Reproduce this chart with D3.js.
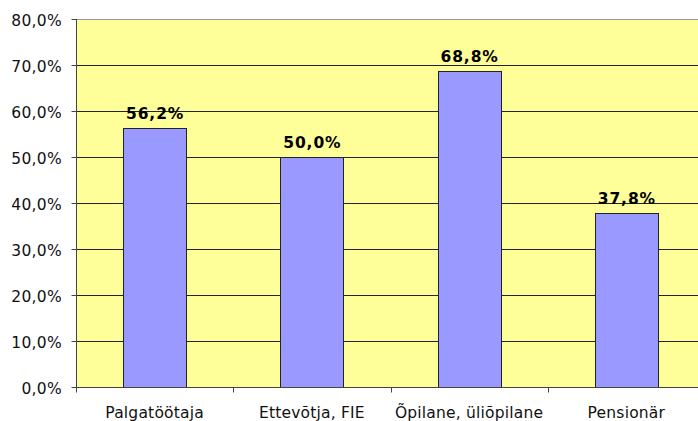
<!DOCTYPE html>
<html><head><meta charset="utf-8">
<script src="https://cdn.jsdelivr.net/npm/d3@7"></script>
<style>body{margin:0;background:#fff;} svg{display:block;}</style>
</head><body>
<svg id="c" width="698" height="421"></svg>
<script>
const categories = ["Palgatöötaja", "Ettevõtja, FIE", "Õpilane, üliõpilane", "Pensionär"];
const values = [56.2, 50.0, 68.8, 37.8];
const yTicks = [0, 10, 20, 30, 40, 50, 60, 70, 80];

const svg = d3.select("#c");
const pL = 76, pR = 705, pT = 19, pB = 387;
const font = "Verdana, DejaVu Sans, sans-serif";

const x = d3.scaleBand().domain(categories).range([pL, pR]).paddingInner(0.6).paddingOuter(0.3);
const y = d3.scaleLinear().domain([0, 80]).range([pB, pT]);
const fmt = v => v.toFixed(1).replace(".", ",") + "%";

svg.append("rect").attr("x", pL).attr("y", pT).attr("width", pR - pL).attr("height", pB - pT)
  .attr("fill", "#FFFF99");
svg.append("line").attr("x1", pL).attr("x2", pR).attr("y1", pT + 0.5).attr("y2", pT + 0.5)
  .attr("stroke", "#999").attr("stroke-width", 1);

svg.append("g").selectAll("line").data(yTicks.filter(d => d > 0 && d < 80)).join("line")
  .attr("x1", pL).attr("x2", pR)
  .attr("y1", d => Math.round(y(d)) + 0.5).attr("y2", d => Math.round(y(d)) + 0.5)
  .attr("stroke", "#222").attr("stroke-width", 1);

svg.append("g").selectAll("rect").data(values).join("rect")
  .attr("x", (d, i) => Math.round(x(categories[i])) + 0.5)
  .attr("width", Math.round(x.bandwidth()))
  .attr("y", d => Math.round(y(d)) + 0.5)
  .attr("height", d => Math.round(pB - y(d)))
  .attr("fill", "#9999FF").attr("stroke", "#222").attr("stroke-width", 1);

svg.append("g").selectAll("text").data(values).join("text")
  .attr("x", (d, i) => x(categories[i]) + x.bandwidth() / 2 + 0.5)
  .attr("y", d => y(d) - 9)
  .attr("text-anchor", "middle")
  .attr("font-family", font).attr("font-weight", "bold").attr("font-size", 15.5)
  .attr("letter-spacing", 0.9)
  .attr("fill", "#000")
  .text(d => fmt(d));

const yAxis = svg.append("g").attr("transform", `translate(${pL + 0.5},0)`)
  .call(d3.axisLeft(y).tickValues(yTicks).tickSize(5).tickPadding(9.5).tickFormat(d => fmt(d)));
yAxis.select(".domain").attr("stroke", "#444").attr("d", `M0,${pT}V${pB + 5}`);
yAxis.selectAll(".tick line").attr("stroke", "#444");
yAxis.selectAll("text").attr("font-family", font).attr("font-size", 15.5).attr("fill", "#111")
  .attr("dy", "0.45em").attr("letter-spacing", 0.3);

const xAxis = svg.append("g").attr("transform", `translate(0,${pB + 0.5})`);
xAxis.append("line").attr("x1", pL).attr("x2", pR).attr("stroke", "#444");
const step = x.step();
const bounds = d3.range(categories.length + 1).map(i => pL + i * step);
xAxis.selectAll("line.t").data(bounds).join("line").attr("class", "t")
  .attr("x1", d => Math.round(d) + 0.5).attr("x2", d => Math.round(d) + 0.5)
  .attr("y1", 0).attr("y2", 5).attr("stroke", "#444");
xAxis.selectAll("text").data(categories).join("text")
  .attr("x", d => x(d) + x.bandwidth() / 2)
  .attr("y", 30)
  .attr("text-anchor", "middle")
  .attr("font-family", font).attr("font-size", 15.5).attr("fill", "#111")
  .attr("letter-spacing", 0.2)
  .text(d => d);
</script>
</body></html>
